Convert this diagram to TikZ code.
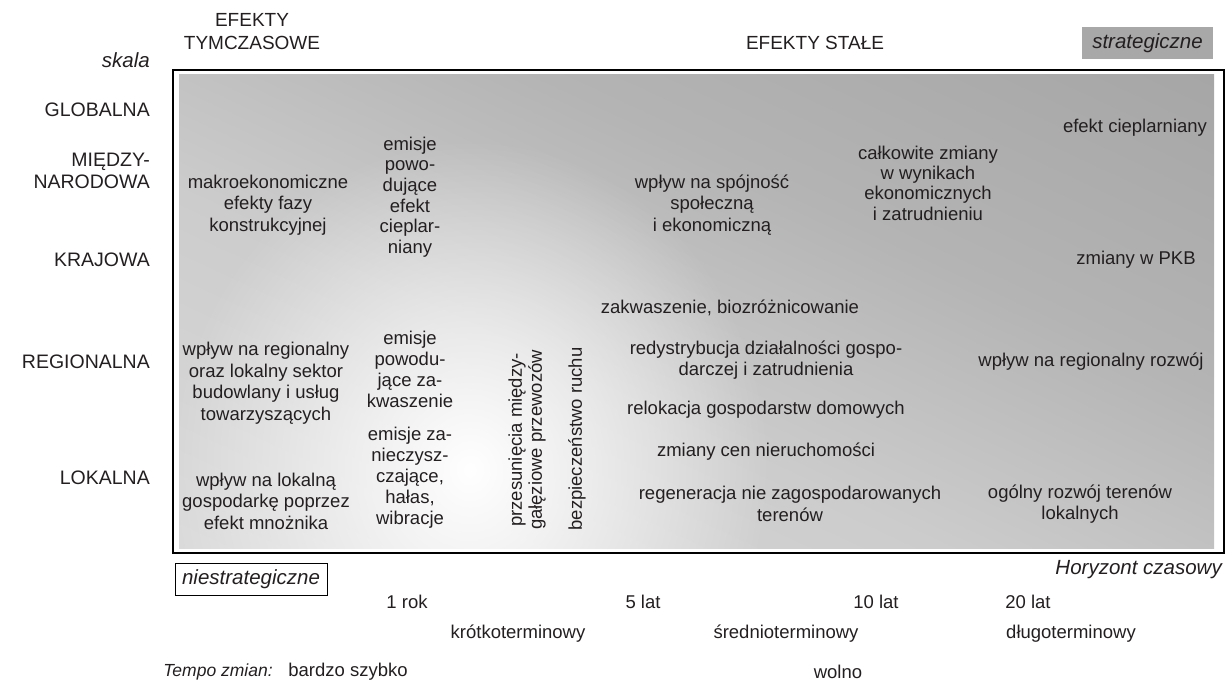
\documentclass[tikz,border=0pt]{standalone}
\usepackage{fontspec}
\setmainfont{Liberation Sans}
\usetikzlibrary{fadings}
\definecolor{tc}{HTML}{231F20}
\definecolor{sg1}{HTML}{E2E2E2}
\definecolor{sg2}{HTML}{CCCCCC}
\definecolor{sg3}{HTML}{C2C2C2}
\definecolor{sg4}{HTML}{B4B4B4}
\definecolor{sg5}{HTML}{A6A6A6}
\definecolor{sg6}{HTML}{A5A5A5}
\definecolor{stratfill}{HTML}{A8A8A9}
\pgfdeclareverticalshading{bgshade}{100bp}{color(0bp)=(sg1); color(25bp)=(sg1); color(45.4bp)=(sg2); color(50bp)=(sg3); color(56.2bp)=(sg4); color(68bp)=(sg5); color(75bp)=(sg6); color(100bp)=(sg6)}
\tikzfading[name=glowfade, inner color=transparent!0, outer color=transparent!100]
\tikzset{
  txt/.style={font=\fontsize{18.5}{21.5}\selectfont, align=center, inner sep=0pt, text=tc},
  lvl/.style={font=\fontsize{19.5}{22}\selectfont, align=right, inner sep=0pt, text=tc, anchor=east},
  itl/.style={font=\fontsize{20.5}{24}\selectfont\itshape, inner sep=0pt, text=tc},
  vtxt/.style={txt, rotate=90, font=\fontsize{18.5}{20}\selectfont},
}
\begin{document}
\begin{tikzpicture}[x=1pt,y=-1pt]
\useasboundingbox (0,0) rectangle (1226,682);
% background gradient
\begin{scope}
  \clip (179,75) rectangle (1214,548);
  \shade[shading=bgshade, transform canvas={rotate around={-25:(696.5,311.5)}}] (96.5,-288.5) rectangle (1296.5,911.5);
  \fill[white, path fading=glowfade] (470,470) ellipse [x radius=300pt, y radius=330pt];
\end{scope}
\draw[line width=2pt, black] (173,70) rectangle (1224,553);

% headers
\node[txt, font=\fontsize{19}{23}\selectfont] (hT) at (252,32) {EFEKTY\\TYMCZASOWE};
\node[txt, font=\fontsize{19}{23}\selectfont] (hS) at (815,43) {EFEKTY STAŁE};
\node[itl, anchor=east] (skala) at (150,60) {skala};
\node[itl, fill=stratfill, minimum width=131pt, minimum height=32pt] (strat) at (1147.5,43) {strategiczne};

% scale labels
\node[lvl] (lg) at (150,110) {GLOBALNA};
\node[lvl] (lm) at (150,171) {MIĘDZY-\\NARODOWA};
\node[lvl] (lk) at (150,260) {KRAJOWA};
\node[lvl] (lr) at (150,362) {REGIONALNA};
\node[lvl] (ll) at (150,478) {LOKALNA};

% temporary effects
\node[txt] (makro) at (268,205) {makroekonomiczne\\efekty fazy\\konstrukcyjnej};
\node[txt, font=\fontsize{18.5}{20.7}\selectfont] (em1) at (410,197) {emisje\\powo-\\dujące\\efekt\\cieplar-\\niany};
\node[txt, font=\fontsize{18.5}{21}\selectfont] (em2) at (410,369) {emisje\\powodu-\\jące za-\\kwaszenie};
\node[txt, font=\fontsize{18.5}{21}\selectfont] (em3) at (410,478) {emisje za-\\nieczysz-\\czające,\\hałas,\\wibracje};
\node[txt] (wreg) at (266,383) {wpływ na regionalny\\oraz lokalny sektor\\budowlany i usług\\towarzyszących};
\node[txt] (wlok) at (266,501) {wpływ na lokalną\\gospodarkę poprzez\\efekt mnożnika};
\node[vtxt] (przes) at (527,440) {przesunięcia między-\\gałęziowe przewozów};
\node[vtxt] (bezp) at (577,439) {bezpieczeństwo ruchu};

% permanent effects
\node[txt] (spoj) at (712,205) {wpływ na spójność\\społeczną\\i ekonomiczną};
\node[txt, font=\fontsize{18.5}{20.3}\selectfont] (calk) at (928,183) {całkowite zmiany\\w wynikach\\ekonomicznych\\i zatrudnieniu};
\node[txt] (efc) at (1135,128) {efekt cieplarniany};
\node[txt] (pkb) at (1136,260) {zmiany w PKB};
\node[txt] (zakw) at (730,308) {zakwaszenie, biozróżnicowanie};
\node[txt] (redys) at (766,360) {redystrybucja działalności gospo-\\darczej i zatrudnienia};
\node[txt] (wrr) at (1091,362) {wpływ na regionalny rozwój};
\node[txt] (relok) at (766,410) {relokacja gospodarstw domowych};
\node[txt] (ceny) at (766,452) {zmiany cen nieruchomości};
\node[txt] (regen) at (790,504) {regeneracja nie zagospodarowanych\\terenów};
\node[txt] (ogol) at (1080,504) {ogólny rozwój terenów\\lokalnych};

% bottom
\node[itl, draw=black, line width=0.8pt, minimum width=152pt, minimum height=32pt] (niestr) at (251,579) {niestrategiczne};
\node[itl, anchor=east] (horyz) at (1222,570) {Horyzont czasowy};
\node[txt] (t1) at (407,602) {1 rok};
\node[txt] (t5) at (643,602) {5 lat};
\node[txt] (t10) at (876,602) {10 lat};
\node[txt] (t20) at (1028,602) {20 lat};
\node[txt] (kr) at (518,634) {krótkoterminowy};
\node[txt] (sr) at (786,634) {średnioterminowy};
\node[txt] (dl) at (1071,634) {długoterminowy};
\node[itl, font=\fontsize{17.5}{20}\selectfont\itshape] (tempo) at (218,672) {Tempo zmian:};
\node[txt] (szyb) at (348,672) {bardzo szybko};
\node[txt] (woln) at (838,672) {wolno};
\end{tikzpicture}
\end{document}
